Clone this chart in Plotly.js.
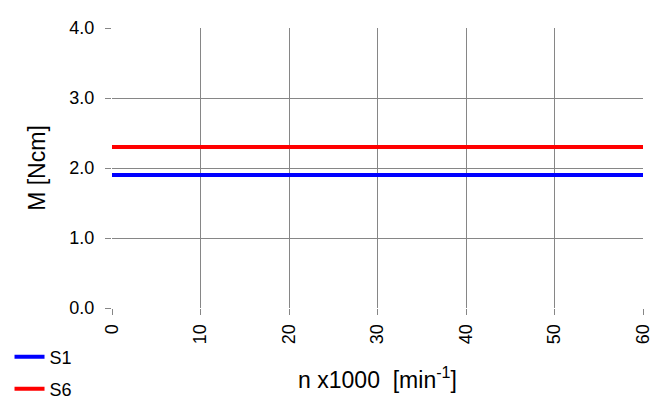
<!DOCTYPE html>
<html>
<head>
<meta charset="utf-8">
<script src="https://cdn.plot.ly/plotly-3.0.1.min.js"></script>
<style>html,body{margin:0;padding:0;background:#fff;}#chart{width:667px;height:407px;}</style>
</head>
<body>
<div id="chart"></div>
<script>
const speeds = [0, 10, 20, 30, 40, 50, 60];
const torqueS1 = [1.9, 1.9, 1.9, 1.9, 1.9, 1.9, 1.9];
const torqueS6 = [2.3, 2.3, 2.3, 2.3, 2.3, 2.3, 2.3];
const yTicks = [0, 1, 2, 3, 4];
const yTickLabels = ['0.0', '1.0', '2.0', '3.0', '4.0'];
const xTicks = [0, 10, 20, 30, 40, 50, 60];

const font = 'Liberation Sans, Arial, sans-serif';
const traces = [
  {x: speeds, y: torqueS1, name: 'S1', mode: 'lines', line: {color: '#0000ff', width: 4}, legend: 'legend'},
  {x: speeds, y: torqueS6, name: 'S6', mode: 'lines', line: {color: '#ff0000', width: 4}, legend: 'legend2'}
];
const legendBase = {
  xref: 'paper', yref: 'paper', xanchor: 'left', yanchor: 'middle',
  bgcolor: 'rgba(0,0,0,0)', borderwidth: 0,
  font: {family: font, size: 18, color: '#000'}, itemwidth: 30
};
const layout = {
  width: 667, height: 407,
  margin: {l: 112, r: 24, t: 28, b: 99, autoexpand: false},
  paper_bgcolor: '#fff', plot_bgcolor: '#fff',
  font: {family: font, size: 18, color: '#000'},
  showlegend: true,
  legend: Object.assign({}, legendBase, {x: -0.193, y: (308 - 357) / 280}),
  legend2: Object.assign({}, legendBase, {x: -0.193, y: (308 - 389) / 280}),
  xaxis: {
    range: [0, 60], tickvals: xTicks, ticktext: xTicks.map(String),
    tickangle: -90, ticks: 'outside', ticklen: 6, tickcolor: '#868686',
    ticklabelstandoff: 2,
    showgrid: true, gridcolor: '#868686', gridwidth: 1,
    zeroline: false, showline: false, automargin: false,
    tickfont: {family: font, size: 18, color: '#000'},
    title: {text: 'n x1000  [min<sup>-1</sup>]', font: {family: font, size: 23, color: '#000'}, standoff: 28}
  },
  yaxis: {
    range: [0, 4], tickvals: yTicks, ticktext: yTickLabels,
    ticks: 'outside', ticklen: 6, tickcolor: '#868686',
    ticklabelstandoff: 7,
    showgrid: true, gridcolor: '#868686', gridwidth: 1,
    zeroline: false, showline: false, automargin: false,
    tickfont: {family: font, size: 18, color: '#000'},
    title: {text: 'M [Ncm]', font: {family: font, size: 23, color: '#000'}, standoff: 17}
  }
};
Plotly.newPlot('chart', traces, layout, {displayModeBar: false, staticPlot: true});
</script>
</body>
</html>
